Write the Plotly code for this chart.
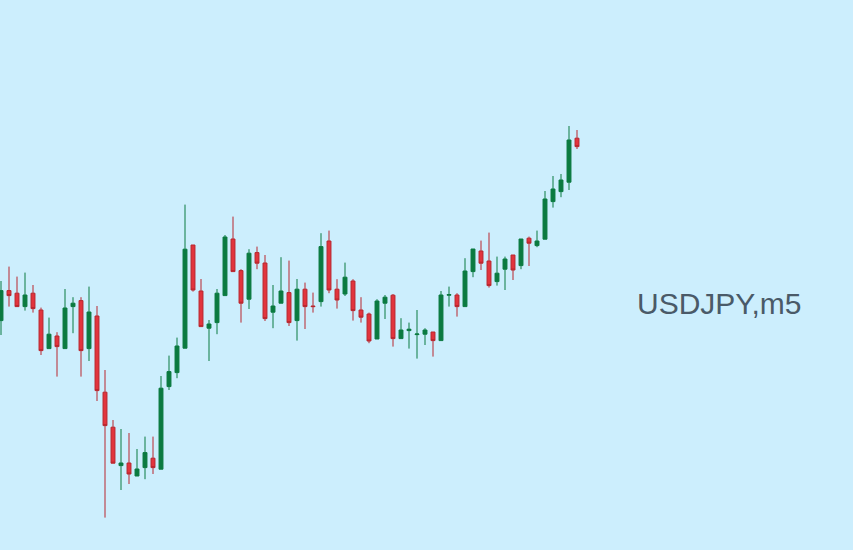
import plotly.graph_objects as go

# Bar index (5-minute bars)
bars = list(range(73))

opens = [149.897, 150.047, 150.034, 149.967, 150.034, 149.950, 149.757, 149.820, 149.757, 149.967,
         149.997, 149.757, 149.920, 149.539, 149.364, 149.172, 149.185, 149.120, 149.162, 149.209,
         149.154, 149.567, 149.637, 149.759, 150.275, 150.045, 149.859, 149.887, 150.022, 150.305,
         150.147, 150.004, 150.237, 150.185, 149.939, 149.984, 150.037, 149.897, 150.054, 149.970,
         149.992, 150.295, 150.054, 150.030, 150.095, 149.950, 149.930, 149.805, 149.984, 150.024,
         149.807, 149.847, 149.827, 149.829, 149.840, 149.797, 150.024, 150.025, 149.967, 150.142,
         150.245, 150.195, 150.092, 150.154, 150.225, 150.172, 150.309, 150.272, 150.304, 150.492,
         150.542, 150.589, 150.809]
highs = [150.095, 150.167, 150.117, 150.137, 150.075, 149.962, 149.912, 149.839, 150.055, 150.014,
         150.014, 150.067, 149.970, 149.650, 149.400, 149.355, 149.335, 149.255, 149.317, 149.317,
         149.620, 149.722, 149.812, 150.477, 150.275, 150.105, 149.900, 150.055, 150.325, 150.417,
         150.154, 150.254, 150.267, 150.225, 150.075, 150.214, 150.197, 150.105, 150.087, 150.037,
         150.334, 150.347, 150.104, 150.187, 150.104, 150.014, 149.937, 150.004, 150.025, 150.030,
         149.909, 149.887, 149.950, 149.859, 149.840, 150.045, 150.067, 150.034, 150.209, 150.255,
         150.297, 150.337, 150.217, 150.217, 150.225, 150.305, 150.317, 150.347, 150.545, 150.620,
         150.630, 150.870, 150.850]
lows = [149.825, 149.967, 149.965, 149.947, 149.937, 149.725, 149.757, 149.617, 149.757, 149.834,
        149.617, 149.695, 149.495, 148.912, 149.184, 149.050, 149.080, 149.120, 149.104, 149.130,
        149.154, 149.550, 149.609, 149.759, 150.042, 149.867, 149.695, 149.829, 150.022, 150.142,
        149.887, 149.955, 150.154, 149.895, 149.859, 149.984, 149.870, 149.797, 149.855, 149.937,
        149.967, 150.034, 149.957, 150.020, 149.897, 149.887, 149.784, 149.805, 149.905, 149.767,
        149.807, 149.757, 149.707, 149.775, 149.717, 149.797, 149.967, 149.917, 149.967, 150.114,
        150.150, 150.062, 150.072, 150.050, 150.100, 150.154, 150.170, 150.264, 150.304, 150.462,
        150.514, 150.550, 150.755]
closes = [150.047, 150.022, 149.967, 150.025, 149.957, 149.747, 149.829, 149.767, 149.960, 149.984,
          149.747, 149.940, 149.547, 149.372, 149.184, 149.185, 149.130, 149.155, 149.237, 149.162,
          149.559, 149.642, 149.770, 150.254, 150.050, 149.867, 149.880, 150.034, 150.315, 150.142,
          149.984, 150.234, 150.184, 149.907, 149.970, 150.045, 149.887, 150.054, 149.967, 149.967,
          150.267, 150.050, 150.000, 150.114, 149.947, 149.914, 149.795, 149.995, 150.014, 149.807,
          149.850, 149.854, 149.830, 149.850, 149.797, 150.025, 150.027, 149.967, 150.145, 150.255,
          150.184, 150.072, 150.134, 150.205, 150.150, 150.305, 150.284, 150.295, 150.505, 150.555,
          150.600, 150.800, 150.767]

symbol_label = "USDJPY,m5"

BG = "#CCEEFD"

fig = go.Figure(
    go.Candlestick(
        x=bars, open=opens, high=highs, low=lows, close=closes,
        increasing=dict(line=dict(color="#0B7A40", width=1), fillcolor="#0B7A40"),
        decreasing=dict(line=dict(color="#B8262E", width=1), fillcolor="#E2343D"),
        whiskerwidth=0,
        hoverinfo="skip",
    )
)

fig.update_layout(
    width=853, height=550,
    margin=dict(l=0, r=0, t=0, b=0),
    paper_bgcolor=BG, plot_bgcolor=BG,
    showlegend=False,
    xaxis=dict(range=[-0.125, 106.5], visible=False, rangeslider=dict(visible=False)),
    yaxis=dict(range=[148.75, 151.5], visible=False),
    annotations=[dict(
        text=symbol_label, xref="paper", yref="paper", x=0.844, y=0.449,
        xanchor="center", yanchor="middle", showarrow=False,
        font=dict(family="Liberation Sans, Arial, sans-serif", size=30, color="#4A5A68"),
    )],
)

fig.write_html(
    "out.html",
    config={"displayModeBar": False},
    post_script="document.body.style.margin='0';document.body.style.padding='0';"
                "document.body.style.background='" + BG + "';",
)
